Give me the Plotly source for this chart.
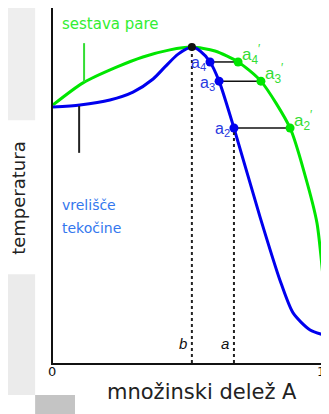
import plotly.graph_objects as go

# vapour composition curve (green)
vap_x = [0.0, 0.109, 0.233, 0.327, 0.425, 0.505, 0.589, 0.673, 0.756, 0.862, 0.916, 0.96, 0.982, 0.993, 1.0]
vap_t = [72.7, 78.9, 83.4, 86.2, 88.2, 89.0, 87.9, 84.8, 79.4, 66.2, 53.0, 39.4, 24.2, 16.3, 7.3]
# liquid boiling curve (blue)
liq_x = [0.0, 0.098, 0.207, 0.291, 0.364, 0.407, 0.455, 0.505, 0.535, 0.571, 0.604, 0.658, 0.753, 0.825, 0.873, 0.935, 1.0]
liq_t = [72.1, 72.7, 74.1, 76.3, 80.0, 83.4, 87.0, 89.0, 87.9, 84.8, 79.4, 66.2, 41.1, 23.4, 14.1, 9.3, 7.6]

# tie-line points
liq_pts_x = [0.571, 0.604, 0.658]
vap_pts_x = [0.673, 0.756, 0.862]
pts_t = [84.8, 79.4, 66.2]
liq_labels = ["a<sub>4</sub>", "a<sub>3</sub>", "a<sub>2</sub>"]
vap_labels = ["a<sub>4</sub><sup>′</sup>", "a<sub>3</sub><sup>′</sup>", "a<sub>2</sub><sup>′</sup>"]

azeo_x, azeo_t = 0.505, 89.0
a_x = 0.658

GREEN = "#00e600"
BLUE = "#0000ee"
GTXT = "#33ee33"
BTXT = "#3377ee"

fig = go.Figure()
fig.add_trace(go.Scatter(x=vap_x, y=vap_t, mode="lines", line=dict(color=GREEN, width=3, shape="spline", smoothing=0.7), hoverinfo="skip"))
fig.add_trace(go.Scatter(x=liq_x, y=liq_t, mode="lines", line=dict(color=BLUE, width=3, shape="spline", smoothing=0.7), hoverinfo="skip"))

# dotted verticals
fig.add_trace(go.Scatter(x=[azeo_x, azeo_x], y=[0, azeo_t], mode="lines", line=dict(color="#222", width=2, dash="dot"), hoverinfo="skip"))
fig.add_trace(go.Scatter(x=[a_x, a_x], y=[0, pts_t[2]], mode="lines", line=dict(color="#222", width=2, dash="dot"), hoverinfo="skip"))

# tie lines
for lx, vx, t in zip(liq_pts_x, vap_pts_x, pts_t):
    fig.add_trace(go.Scatter(x=[lx, vx], y=[t, t], mode="lines", line=dict(color="#111", width=1.5), hoverinfo="skip"))

fig.add_trace(go.Scatter(x=liq_pts_x, y=pts_t, mode="markers", marker=dict(color=BLUE, size=9), hoverinfo="skip"))
fig.add_trace(go.Scatter(x=vap_pts_x, y=pts_t, mode="markers", marker=dict(color=GREEN, size=9), hoverinfo="skip"))
fig.add_trace(go.Scatter(x=[azeo_x], y=[azeo_t], mode="markers", marker=dict(color="#111", size=8), hoverinfo="skip"))

ann = []
for lx, t, lab in zip(liq_pts_x, pts_t, liq_labels):
    ann.append(dict(x=lx, y=t / 100, xref="paper", yref="paper", text=lab, showarrow=False, xanchor="right", yanchor="middle",
                    xshift=-2, yshift=-2, font=dict(family="Liberation Sans", size=16, color="#2a3ae0")))
for vx, t, lab in zip(vap_pts_x, pts_t, vap_labels):
    ann.append(dict(x=vx, y=t / 100, xref="paper", yref="paper", text=lab, showarrow=False, xanchor="left", yanchor="bottom",
                    xshift=2, yshift=-7, font=dict(family="Liberation Sans", size=17, color="#33dd33")))

ann += [
    dict(x=0.025, y=0.955, xref="paper", yref="paper", text="sestava pare", showarrow=False, xanchor="left", yanchor="middle",
         font=dict(family="DejaVu Sans", size=15, color=GTXT)),
    dict(x=0.025, y=0.445, xref="paper", yref="paper", text="vrelišče", showarrow=False, xanchor="left", yanchor="middle",
         font=dict(family="DejaVu Sans", size=14, color=BTXT)),
    dict(x=0.025, y=0.38, xref="paper", yref="paper", text="tekočine", showarrow=False, xanchor="left", yanchor="middle",
         font=dict(family="DejaVu Sans", size=14, color=BTXT)),
    dict(x=0.473, y=0.054, xref="paper", yref="paper", text="<i>b</i>", showarrow=False, xanchor="center", yanchor="middle",
         font=dict(family="Liberation Sans", size=15, color="#111")),
    dict(x=0.625, y=0.054, xref="paper", yref="paper", text="<i>a</i>", showarrow=False, xanchor="center", yanchor="middle",
         font=dict(family="Liberation Sans", size=15, color="#111")),
    dict(x=-0.004, y=-0.025, xref="paper", yref="paper", text="0", showarrow=False, xanchor="center", yanchor="middle",
         font=dict(family="DejaVu Sans", size=13, color="#111")),
    dict(x=0.975, y=-0.025, xref="paper", yref="paper", text="1", showarrow=False, xanchor="center", yanchor="middle",
         font=dict(family="DejaVu Sans", size=13, color="#111")),
    dict(x=0.54, y=-0.082, xref="paper", yref="paper", text="množinski delež A", showarrow=False, xanchor="center", yanchor="middle",
         font=dict(family="DejaVu Sans", size=21, color="#222")),
    dict(x=-0.124, y=0.465, xref="paper", yref="paper", text="temperatura", showarrow=False, textangle=-90, xanchor="center", yanchor="middle",
         font=dict(family="DejaVu Sans", size=18, color="#222")),
]

shapes = [
    # slide shadow decorations
    dict(type="rect", xref="paper", yref="paper", x0=-0.2, x1=-0.065, y0=0.684, y1=1.0, fillcolor="#eeeeee", line=dict(width=0), layer="below"),
    dict(type="rect", xref="paper", yref="paper", x0=-0.2, x1=-0.065, y0=-0.09, y1=0.25, fillcolor="#ebebeb", line=dict(width=0), layer="below"),
    dict(type="rect", xref="paper", yref="paper", x0=-0.065, x1=0.08, y0=-0.16, y1=-0.09, fillcolor="#c4c4c4", line=dict(width=0), layer="below"),
    dict(type="rect", xref="paper", yref="paper", x0=0.978, x1=1.01, y0=-0.16, y1=-0.09, fillcolor="#a8a8a8", line=dict(width=0), layer="below"),
    # pointer lines
    dict(type="line", xref="x", yref="y", x0=0.113, x1=0.113, y0=90.1, y1=79.2, line=dict(color="#33dd33", width=2)),
    dict(type="line", xref="x", yref="y", x0=0.095, x1=0.095, y0=72.4, y1=59.2, line=dict(color="#222", width=2)),
]

fig.update_layout(
    width=321, height=406,
    margin=dict(l=45, r=1, t=0, b=51),
    paper_bgcolor="white", plot_bgcolor="white",
    showlegend=False,
    xaxis=dict(range=[0, 1], showgrid=False, zeroline=False, showticklabels=False, ticks="",
               showline=True, linecolor="#111", linewidth=2),
    yaxis=dict(range=[0, 100], showgrid=False, zeroline=False, showticklabels=False, ticks="",
               showline=True, linecolor="#111", linewidth=2),
    annotations=ann, shapes=shapes,
)

fig.write_html("out.html")
